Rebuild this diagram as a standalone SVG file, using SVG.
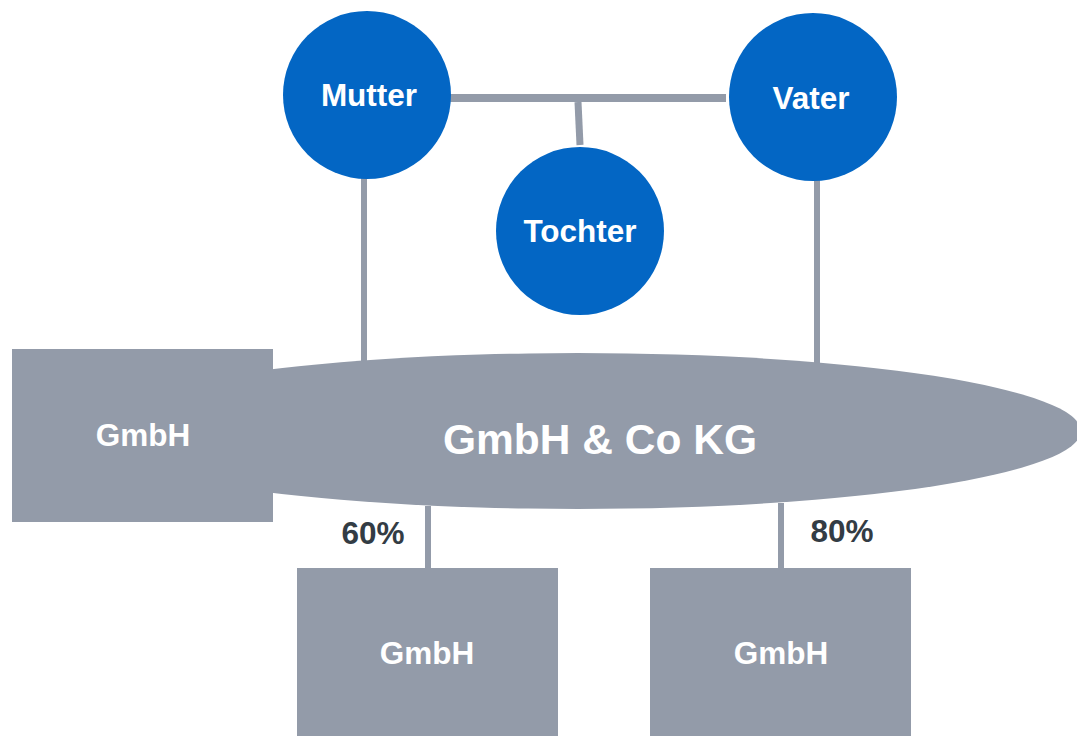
<svg xmlns="http://www.w3.org/2000/svg" width="1077" height="736" viewBox="0 0 1077 736">
  <style>
    .person { fill: #0366c4; }
    .entity { fill: #939ba9; }
    .link { stroke: #939ba9; fill: none; }
    .lbl { font-family: "Liberation Sans", Arial, sans-serif; font-weight: bold; fill: #ffffff; text-anchor: middle; dominant-baseline: central; font-size: 31.5px; }
    .lbl.big { font-size: 42.5px; }
    .pct { font-family: "Liberation Sans", Arial, sans-serif; font-weight: bold; fill: #333c44; text-anchor: middle; dominant-baseline: central; font-size: 31.5px; }
  </style>
  <rect width="1077" height="736" fill="#ffffff"/>

  <!-- connectors -->
  <g id="connectors">
    <line class="link" x1="448" y1="98" x2="726" y2="98" stroke-width="8"/>
    <line class="link" x1="578" y1="102" x2="580" y2="145" stroke-width="7"/>
    <line class="link" x1="364" y1="178" x2="364" y2="364" stroke-width="6"/>
    <line class="link" x1="817" y1="180" x2="817" y2="364" stroke-width="6"/>
    <line class="link" x1="428" y1="506" x2="428" y2="570" stroke-width="6"/>
    <line class="link" x1="781" y1="503" x2="781" y2="570" stroke-width="6"/>
  </g>

  <!-- family members -->
  <g id="mutter">
    <circle class="person" cx="367" cy="95" r="84"/>
    <text class="lbl" x="369" y="95">Mutter</text>
  </g>
  <g id="vater">
    <circle class="person" cx="813" cy="97" r="84"/>
    <text class="lbl" x="811" y="98">Vater</text>
  </g>
  <g id="tochter">
    <circle class="person" cx="580" cy="231" r="84"/>
    <text class="lbl" x="580" y="231">Tochter</text>
  </g>

  <!-- limited partnership -->
  <g id="kg">
    <ellipse class="entity" cx="578" cy="431" rx="503" ry="78"/>
    <text class="lbl big" x="600" y="439">GmbH &amp; Co KG</text>
  </g>

  <!-- general partner -->
  <g id="gmbh-komplementaer">
    <rect class="entity" x="12" y="349" width="261" height="173"/>
    <text class="lbl" x="143" y="435">GmbH</text>
  </g>

  <!-- subsidiaries -->
  <g id="gmbh-60">
    <rect class="entity" x="297" y="568" width="261" height="170"/>
    <text class="lbl" x="427" y="653">GmbH</text>
    <text class="pct" x="373" y="533">60%</text>
  </g>
  <g id="gmbh-80">
    <rect class="entity" x="650" y="568" width="261" height="170"/>
    <text class="lbl" x="781" y="653">GmbH</text>
    <text class="pct" x="842" y="531">80%</text>
  </g>
</svg>
